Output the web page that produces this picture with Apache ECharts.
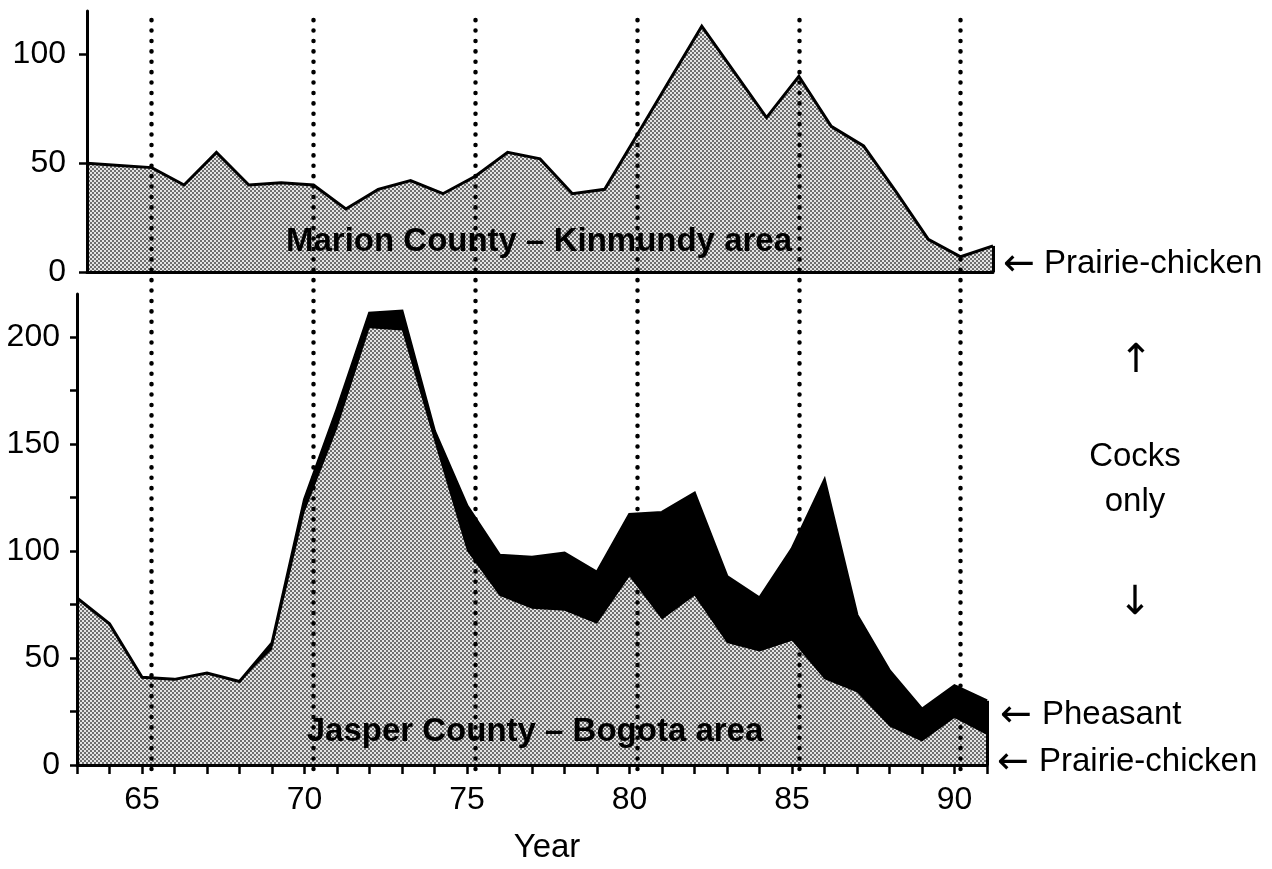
<!DOCTYPE html>
<html>
<head>
<meta charset="utf-8">
<script src="https://cdn.jsdelivr.net/npm/echarts@6/dist/echarts.min.js"></script>
<style>
html,body{margin:0;padding:0;background:#fff;}
#chart{width:1272px;height:869px;}
</style>
</head>
<body>
<div id="chart"></div>
<script>
// ---- data ----
const years = [63,64,65,66,67,68,69,70,71,72,73,74,75,76,77,78,79,80,81,82,83,84,85,86,87,88,89,90,91];
// Marion County – Kinmundy area, prairie-chicken (top panel)
const marionPrairie = [50,49,48,40,55,40,41,40,29,38,42,36,44,55,52,36,38,63,88,113,92,71,90,67,58,37,15,7,12];
// Jasper County – Bogota area (bottom panel)
const jasperPrairie = [78,66,41,40,43,39,54,118,157,204,203,151,100,79,73,72,66,88,68,79,57,53,58,40,34,18,11,22,14];
const jasperPheasant = [0,0,0,0,0,0,3,6,9,7,9,5,21,19,24,27,24,29,50,48,31,25,43,93,36,26,15,15,16];
// ticks / labels
const xTickValues = [63,64,65,66,67,68,69,70,71,72,73,74,75,76,77,78,79,80,81,82,83,84,85,86,87,88,89,90,91];
const xLabelValues = [65,70,75,80,85,90];
const dottedYears = [65,70,75,80,85,90];
const topYTicks = [0,50,100];
const bottomYTicks = [0,25,50,75,100,125,150,175,200];
const bottomYLabels = [0,50,100,150,200];

const FONT = '"Liberation Sans", Arial, Helvetica, sans-serif';
const ARROW_FONT = '"DejaVu Sans", sans-serif';

function halftone(){
  const c = document.createElement('canvas');
  c.width = 4; c.height = 4;
  const g = c.getContext('2d');
  g.fillStyle = '#e4e4e4'; g.fillRect(0,0,4,4);
  g.fillStyle = '#6e6e6e'; g.fillRect(0,0,2,2); g.fillRect(2,2,2,2);
  return c;
}
const pattern = {image: halftone(), repeat: 'repeat'};

const pairs = (vals) => years.map((y,i) => [y, vals[i]]);
// pheasant is drawn stacked on top of the prairie-chicken count
const jasperStacked = years.map((y,i) => [y, jasperPrairie[i] + jasperPheasant[i]]);
const last = years.length - 1;

const chart = echarts.init(document.getElementById('chart'), null, {renderer:'canvas'});
const axisLineStyle = {color:'#000', width:3};

function txt(x, y, text, font, align){
  return {type:'text', x:x, y:y, z:10, silent:true,
          style:{text:text, font:font, fill:'#000', align:align || 'center', verticalAlign:'middle'}};
}
const edgeLine = (v) => ({
  silent:true, symbol:['none','none'], label:{show:false},
  lineStyle:{color:'#000', width:3, type:'solid'},
  data: [[{coord:[years[last],0]},{coord:[years[last], v]}]]
});

chart.setOption({
  animation: false,
  backgroundColor: '#fff',
  grid: [
    {left: 87, right: 279, top: 11, height: 261},   // top panel
    {left: 77, right: 285, top: 294, height: 475},  // bottom panel
    {left: 87, right: 279, top: 17, height: 752}    // dotted guide overlay
  ],
  xAxis: [
    {gridIndex:0, type:'value', min:63, max:91, z:6,
     axisLine:{show:true, lineStyle:axisLineStyle, onZero:false},
     axisTick:{show:false}, axisLabel:{show:false}, splitLine:{show:false}},
    {gridIndex:1, type:'value', min:63, max:91, z:6,
     axisLine:{show:true, lineStyle:axisLineStyle, onZero:false},
     axisTick:{show:true, length:9, lineStyle:{color:'#000', width:2.5}, customValues: xTickValues},
     axisLabel:{show:true, customValues: xLabelValues, margin:19, fontSize:32, fontFamily:FONT, color:'#000'},
     splitLine:{show:false},
     name:'Year', nameLocation:'middle', nameGap:66,
     nameTextStyle:{fontSize:33, fontFamily:FONT, color:'#000', padding:[0,0,0,30]}},
    {gridIndex:2, type:'value', min:63, max:91, show:false}
  ],
  yAxis: [
    {gridIndex:0, type:'value', min:0, max:120, z:6,
     axisLine:{show:true, lineStyle:axisLineStyle},
     axisTick:{show:true, length:8, lineStyle:{color:'#000', width:2.5}, customValues: topYTicks},
     axisLabel:{show:true, customValues: topYTicks, margin:21, fontSize:32, fontFamily:FONT, color:'#000'},
     splitLine:{show:false}},
    {gridIndex:1, type:'value', min:0, max:220, z:6,
     axisLine:{show:true, lineStyle:axisLineStyle},
     axisTick:{show:true, length:7, lineStyle:{color:'#000', width:2.5}, customValues: bottomYTicks},
     axisLabel:{show:true, customValues: bottomYLabels, margin:17, fontSize:32, fontFamily:FONT, color:'#000'},
     splitLine:{show:false}},
    {gridIndex:2, type:'value', min:0, max:1, show:false}
  ],
  series: [
    {
      name:'guides', type:'line', xAxisIndex:2, yAxisIndex:2, z:1,
      data: [[years[0],0],[years[last],0]], showSymbol:false, symbol:'none',
      lineStyle:{width:0, opacity:0}, silent:true,
      markLine:{
        silent:true, symbol:['none','none'], label:{show:false},
        lineStyle:{color:'#000', width:4.5, type:[0.1, 10.3], cap:'round'},
        data: dottedYears.map(y => ({xAxis: y}))
      }
    },
    {
      name:'Marion prairie-chicken', type:'line', xAxisIndex:0, yAxisIndex:0, z:3,
      data: pairs(marionPrairie), symbol:'none', showSymbol:false,
      lineStyle:{color:'#000', width:3, join:'miter'},
      areaStyle:{color: pattern, opacity:1},
      markLine: edgeLine(marionPrairie[last])
    },
    {
      name:'Jasper pheasant', type:'line', xAxisIndex:1, yAxisIndex:1, z:3,
      data: jasperStacked, symbol:'none', showSymbol:false,
      lineStyle:{width:0, opacity:0},
      areaStyle:{color:'#000', opacity:1}
    },
    {
      name:'Jasper prairie-chicken', type:'line', xAxisIndex:1, yAxisIndex:1, z:4,
      data: pairs(jasperPrairie), symbol:'none', showSymbol:false,
      lineStyle:{width:0, opacity:0},
      areaStyle:{color: pattern, opacity:1}
    },
    {
      name:'Jasper outline', type:'line', xAxisIndex:1, yAxisIndex:1, z:5,
      data: jasperStacked, symbol:'none', showSymbol:false,
      lineStyle:{color:'#000', width:3, join:'miter'},
      markLine: edgeLine(jasperPrairie[last] + jasperPheasant[last])
    }
  ],
  graphic: [
    txt(539, 242, 'Marion County – Kinmundy area', 'bold 33px ' + FONT),
    txt(535, 732, 'Jasper County – Bogota area', 'bold 33px ' + FONT),
    txt(1019, 265, '←', '38px ' + ARROW_FONT),
    txt(1044, 264, 'Prairie-chicken', '33px ' + FONT, 'left'),
    txt(1136, 362, '↑', '40px ' + ARROW_FONT),
    txt(1135, 457, 'Cocks', '33px ' + FONT),
    txt(1135, 502, 'only', '33px ' + FONT),
    txt(1135, 604, '↓', '40px ' + ARROW_FONT),
    txt(1016, 716, '←', '38px ' + ARROW_FONT),
    txt(1042, 715, 'Pheasant', '33px ' + FONT, 'left'),
    txt(1013, 763, '←', '38px ' + ARROW_FONT),
    txt(1039, 762, 'Prairie-chicken', '33px ' + FONT, 'left')
  ]
});
</script>
</body>
</html>
